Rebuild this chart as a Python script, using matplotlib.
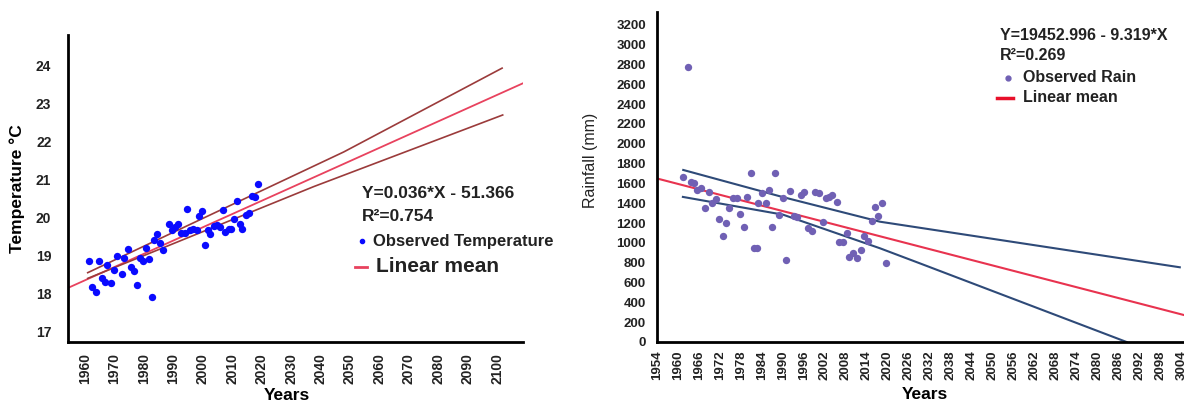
import matplotlib
matplotlib.use("Agg")
import matplotlib.pyplot as plt
from matplotlib.lines import Line2D

plt.rcParams["font.family"] = ["Liberation Sans", "DejaVu Sans"]

# --- temperature panel data ---
temp_years = [1961.5, 1964.6, 1962.4, 1963.6, 1965.8, 1966.7, 1967.6, 1968.7, 1969.9, 1970.7,
              1972.4, 1973.3, 1974.5, 1975.6, 1976.7, 1977.5, 1978.6, 1979.6, 1980.6, 1981.7,
              1982.7, 1983.5, 1984.4, 1985.6, 1986.6, 1988.6, 1989.6, 1990.7, 1991.7, 1992.6,
              1993.8, 1994.7, 1995.7, 1996.8, 1998.0, 1998.8, 1999.6, 2000.7, 2001.6, 2002.5,
              2003.7, 2004.8, 2005.9, 2006.8, 2007.7, 2008.9, 2009.7, 2010.5, 2011.6, 2012.5,
              2013.4, 2014.8, 2015.7, 2016.8, 2017.8, 2018.7]
temp_values = [18.86, 18.86, 18.18, 18.05, 18.40, 18.31, 18.74, 18.29, 18.62, 19.00,
               18.51, 18.94, 19.17, 18.71, 18.60, 18.22, 18.93, 18.86, 19.19, 18.90,
               17.92, 19.41, 19.56, 19.32, 19.14, 19.84, 19.67, 19.76, 19.84, 19.60,
               19.60, 20.22, 19.67, 19.69, 19.67, 20.05, 20.17, 19.28, 19.67, 19.56,
               19.77, 19.80, 19.74, 20.19, 19.63, 19.69, 19.70, 19.95, 20.43, 19.83,
               19.70, 20.06, 20.12, 20.57, 20.54, 20.87]
temp_mean_x = [1954.2, 2109.0]
temp_mean_y = [18.15, 23.53]
temp_upper_x = [1960.9, 2047.9, 2101.7]
temp_upper_y = [18.55, 21.72, 23.92]
temp_lower_x = [1960.9, 2037.7, 2101.9]
temp_lower_y = [18.40, 20.81, 22.69]
temp_xticks = list(range(1960, 2101, 10))
temp_yticks = [17, 18, 19, 20, 21, 22, 23, 24]

# --- rainfall panel data ---
rain_years = [1961.5, 1962.8, 1963.6, 1964.7, 1965.5, 1966.5, 1967.8, 1968.9, 1969.8, 1970.9,
              1971.8, 1972.8, 1973.7, 1974.7, 1975.8, 1977.0, 1977.8, 1978.9, 1979.8, 1981.0,
              1981.7, 1982.5, 1983.0, 1984.0, 1985.2, 1986.0, 1987.0, 1987.8, 1989.0, 1989.9,
              1990.9, 1992.0, 1993.1, 1994.1, 1995.1, 1996.0, 1997.2, 1998.2, 1999.1, 2000.3,
              2001.3, 2002.2, 2003.1, 2004.1, 2005.3, 2006.0, 2007.2, 2008.2, 2008.9, 2010.1,
              2011.2, 2012.3, 2013.1, 2014.2, 2015.3, 2016.3, 2017.2, 2018.4, 2019.3]
rain_values = [1663, 2779, 1619, 1609, 1534, 1551, 1349, 1517, 1400, 1440,
               1238, 1073, 1198, 1349, 1450, 1450, 1292, 1158, 1467, 1709,
               946, 946, 1400, 1500, 1406, 1534, 1158, 1702, 1282, 1450,
               828, 1527, 1272, 1265, 1484, 1517, 1148, 1121, 1517, 1500,
               1215, 1450, 1467, 1484, 1416, 1006, 1013, 1104, 855, 902,
               845, 929, 1070, 1023, 1225, 1366, 1272, 1400, 801]
rain_mean_x = [1954.0, 2104.6]
rain_mean_y = [1650, 272]
rain_upper_x = [1961.5, 1990.0, 2017.7, 2103.4]
rain_upper_y = [1736, 1462, 1214, 754]
rain_lower_x = [1961.4, 1990.0, 2017.7, 2029.1, 2088.2]
rain_lower_y = [1464, 1285, 946, 794, 0]
rain_xticks = list(range(1954, 2105, 6))
rain_xticklabels = [str(y) for y in rain_xticks[:-1]] + ["3004"]
rain_yticks = list(range(0, 3201, 200))

W, H = 1184, 405
fig = plt.figure(figsize=(W / 100, H / 100), dpi=100)


def px(x, y):
    return x / W, 1 - y / H


def style_axes(ax):
    for s in ("top", "right"):
        ax.spines[s].set_visible(False)
    for s in ("left", "bottom"):
        ax.spines[s].set_linewidth(2.0)
        ax.spines[s].set_color("black")
    ax.tick_params(length=0)


# ---------- left: temperature ----------
ax1 = fig.add_axes([68 / W, (H - 342) / H, 455 / W, 307 / H])
style_axes(ax1)
ax1.plot(temp_mean_x, temp_mean_y, color="#e8425e", lw=1.3, zorder=2)
ax1.plot(temp_upper_x, temp_upper_y, color="#9b3b3b", lw=1.2, zorder=2)
ax1.plot(temp_lower_x, temp_lower_y, color="#9b3b3b", lw=1.2, zorder=2)
ax1.scatter(temp_years, temp_values, s=28, color="#0a0aff", zorder=3, linewidths=0)
ax1.set_xlim(1954.2, 2108.8)
ax1.set_ylim(16.73, 24.79)
ax1.set_xticks(temp_xticks)
ax1.set_xticklabels([str(t) for t in temp_xticks], rotation=90, fontsize=10,
                    fontweight="bold", color="#222222")
ax1.set_yticks(temp_yticks)
ax1.set_yticklabels([str(t) for t in temp_yticks], fontsize=10, fontweight="bold",
                    color="#222222")
ax1.tick_params(axis="y", pad=12)
ax1.tick_params(axis="x", pad=8)
ax1.set_ylabel("Temperature \u00b0C", fontsize=12.5, fontweight="bold")
ax1.yaxis.set_label_coords(-0.095, 0.5)
ax1.set_xlabel("Years", fontsize=12.5, fontweight="bold")
ax1.xaxis.set_label_coords(0.48, -0.15)

fig.text(*px(362, 193), "Y=0.036*X - 51.366", fontsize=12.5, fontweight="bold",
         va="center", ha="left", color="#222222")
fig.text(*px(362, 217), "R\u00b2=0.754", fontsize=12.5, fontweight="bold",
         va="center", ha="left", color="#222222")
fig.add_artist(Line2D([px(362, 241)[0]], [px(362, 241)[1]], marker="o", ms=3,
                      color="#0a0aff", lw=0))
fig.text(*px(373, 241), "Observed Temperature", fontsize=12, fontweight="bold",
         va="center", ha="left", color="#222222")
fig.add_artist(Line2D([px(355, 267)[0], px(367, 267)[0]], [px(355, 267)[1]] * 2,
                      color="#e8425e", lw=2))
fig.text(*px(376, 267), "Linear mean", fontsize=15, fontweight="bold",
         va="center", ha="left", color="#222222")

# ---------- right: rainfall ----------
ax2 = fig.add_axes([657 / W, (H - 342) / H, 527 / W, 330 / H])
style_axes(ax2)
ax2.plot(rain_upper_x, rain_upper_y, color="#2e4a78", lw=1.5, zorder=2)
ax2.plot(rain_lower_x, rain_lower_y, color="#2e4a78", lw=1.5, zorder=2)
ax2.plot(rain_mean_x, rain_mean_y, color="#e8334f", lw=1.5, zorder=2)
ax2.scatter(rain_years, rain_values, s=28, color="#7060b4", zorder=3, linewidths=0)
ax2.set_xlim(1954, 2104.6)
ax2.set_ylim(0, 3330)
ax2.set_xticks(rain_xticks)
ax2.set_xticklabels(rain_xticklabels, rotation=90, fontsize=9.5, fontweight="bold",
                    color="#222222")
ax2.set_yticks(rain_yticks)
ax2.set_yticklabels([str(t) for t in rain_yticks], fontsize=9.5, fontweight="bold",
                    color="#222222")
ax2.tick_params(axis="y", pad=8)
ax2.tick_params(axis="x", pad=6)
ax2.set_ylabel("Rainfall (mm)", fontsize=11.5, color="#222222")
ax2.yaxis.set_label_coords(-0.112, 0.55)
ax2.set_xlabel("Years", fontsize=12.5, fontweight="bold")
ax2.xaxis.set_label_coords(0.508, -0.135)

fig.text(*px(1000, 35), "Y=19452.996 - 9.319*X", fontsize=11.5, fontweight="bold",
         va="center", ha="left", color="#222222")
fig.text(*px(1000, 56), "R\u00b2=0.269", fontsize=11.5, fontweight="bold",
         va="center", ha="left", color="#222222")
fig.add_artist(Line2D([px(1008, 78)[0]], [px(1008, 78)[1]], marker="o", ms=3.5,
                      color="#7060b4", lw=0))
fig.text(*px(1023, 78), "Observed Rain", fontsize=11.5, fontweight="bold",
         va="center", ha="left", color="#222222")
fig.add_artist(Line2D([px(997, 98)[0], px(1013, 98)[0]], [px(997, 98)[1]] * 2,
                      color="#e8102a", lw=2.5))
fig.text(*px(1023, 98), "Linear mean", fontsize=11.5, fontweight="bold",
         va="center", ha="left", color="#222222")

fig.savefig("out.png", dpi=100)
